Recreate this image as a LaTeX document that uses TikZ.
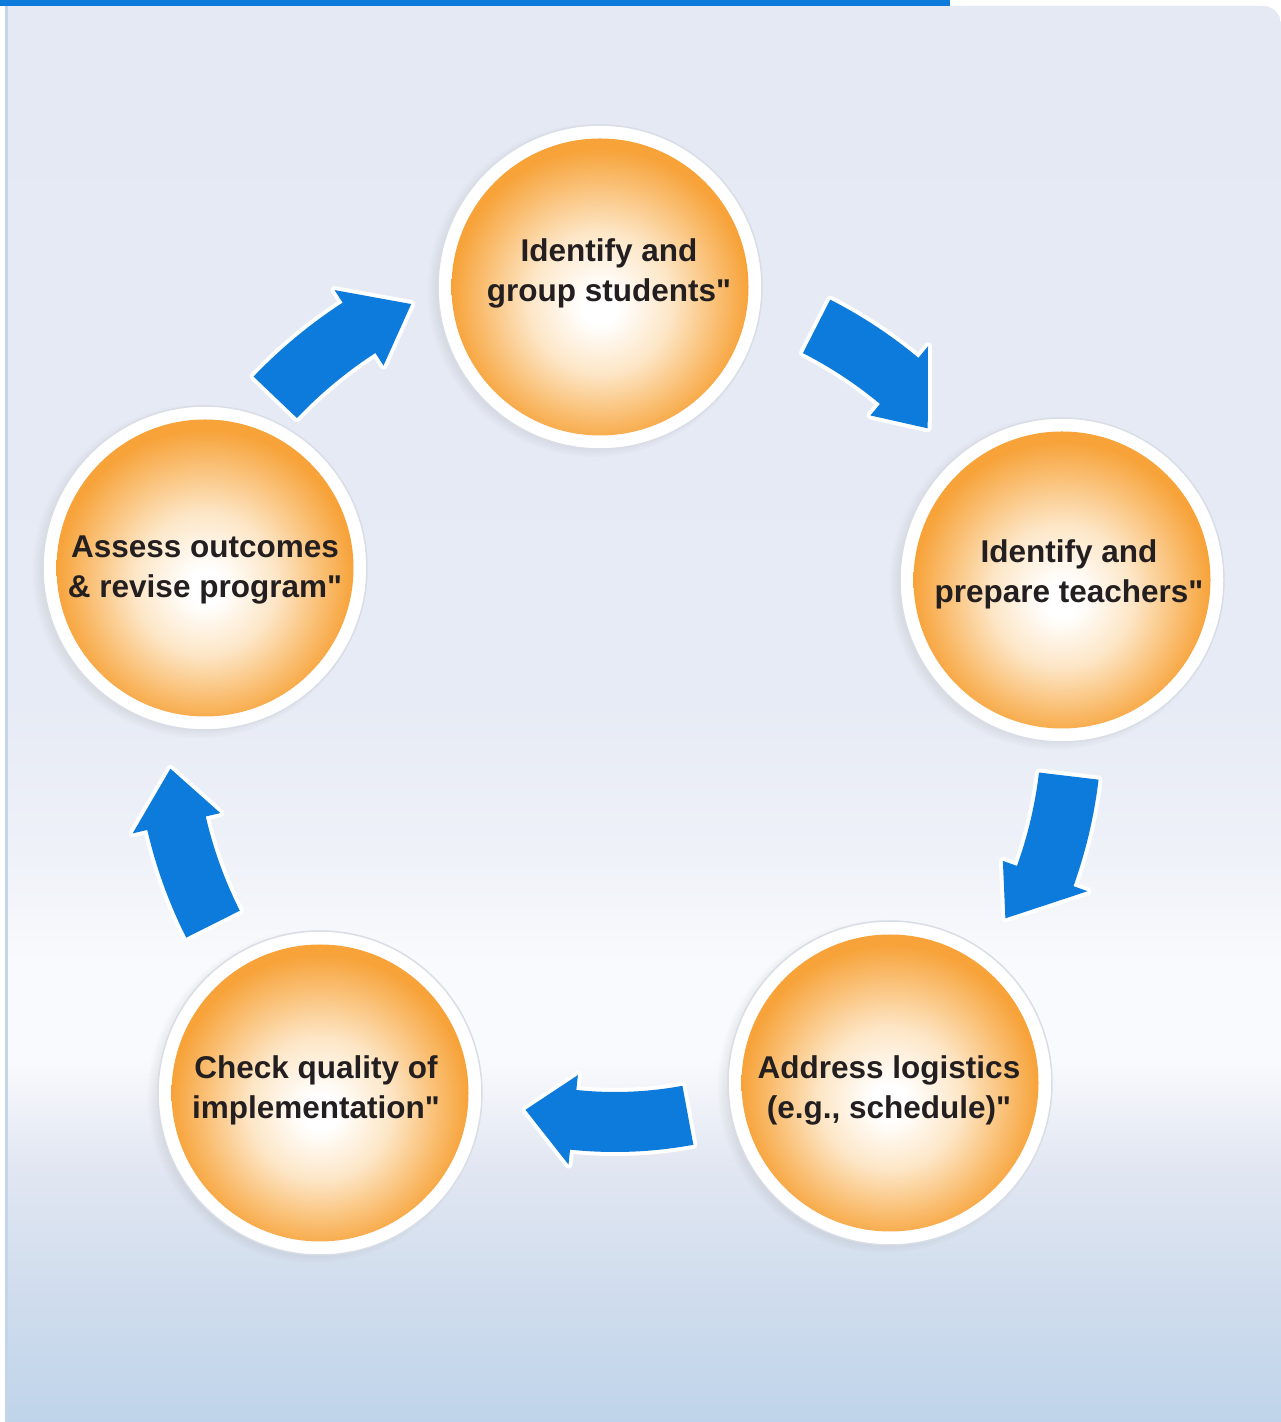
\documentclass[tikz,border=0pt]{standalone}
\usepackage{fontspec}
\newfontfamily\cyclefont{Liberation Sans}
\usetikzlibrary{positioning,calc,shadows}

\definecolor{cycleblue}{HTML}{0C7BDC}
\definecolor{ballorange}{HTML}{F7A33A}
\definecolor{ballmid}{HTML}{FAC27A}
\definecolor{ballpeach}{HTML}{FDE6C6}
\definecolor{ringgrey}{HTML}{D9DDE6}
\definecolor{textdark}{HTML}{231F20}
\definecolor{panelrim}{HTML}{C4D5EB}
\definecolor{paneltop}{HTML}{E4E9F4}
\definecolor{panelmid}{HTML}{E7EBF5}
\definecolor{panellight}{HTML}{EEF1F8}
\definecolor{panelwhite}{HTML}{F9FAFD}
\definecolor{panellow}{HTML}{E2E7F2}
\definecolor{panelblue}{HTML}{CFDCED}
\definecolor{panelbottom}{HTML}{BFD4EA}

\pgfdeclareverticalshading{panelshade}{100bp}{color(0bp)=(panelbottom); color(25bp)=(panelbottom);
  color(29.3bp)=(panelblue); color(34.2bp)=(panellow); color(37.8bp)=(panelwhite); color(41.3bp)=(panelwhite);
  color(45.2bp)=(panellight); color(50.5bp)=(panelmid); color(75bp)=(paneltop); color(100bp)=(paneltop)}
\pgfdeclareradialshading{ballshade}{\pgfpoint{0bp}{-3.5bp}}{color(0bp)=(white); color(3bp)=(white);
  color(12bp)=(ballpeach); color(19bp)=(ballmid); color(25bp)=(ballorange); color(50bp)=(ballorange)}

\newcommand\cyclearrow[4]{%
  \def\cyclepath{($(hub)+(#1:{#3+30})$) arc[start angle=#1, end angle=#2+7, radius=#3+30]
    -- ($(hub)+({#2+7}:{#3+45})$) -- ($(hub)+(#2:{#3+#4})$) -- ($(hub)+({#2+7}:{#3-45})$)
    -- ($(hub)+({#2+7}:{#3-30})$) arc[start angle=#2+7, end angle=#1, radius=#3-30] -- cycle}%
  \fill[arrowshadow] \cyclepath;
  \filldraw[arrowrim] \cyclepath;
  \fill[arrowbody] \cyclepath;}

\begin{document}
\begin{tikzpicture}[x=1pt, y=1pt, on grid,
    ring/.style={circle, minimum size=324, inner sep=0, fill=white, draw=ringgrey, line width=1.5,
      circular drop shadow={shadow xshift=-6pt, shadow yshift=-3pt, shadow scale=1.03, opacity=.35}},
    ball/.style={circle, minimum size=297, inner sep=0, shade, shading=ballshade},
    caption/.style={inner sep=0, align=center, text=textdark, font=\cyclefont\bfseries\fontsize{31.5}{40}\selectfont},
    arrowshadow/.style={fill=black, opacity=.12, shift={(-6,-7)}},
    arrowrim/.style={fill=white, draw=white, line width=8, line join=round, shift={(-3,-3)}},
    arrowbody/.style={fill=cycleblue}]
    \useasboundingbox (0,0) rectangle (1281,1422);
    \fill[white] (0,0) rectangle (1281,1422);
    \shade[shading=panelshade] (6,0) -- (6,1416) -- (1263,1416) arc[start angle=90, end angle=0, radius=18] -- (1281,0) -- cycle;
    \fill[panelrim] (5,0) rectangle (8,1416);
    \fill[cycleblue] (0,1416) rectangle (950,1422);

    \coordinate (hub) at (615,700);
    \cyclearrow{63}{43.2}{444}{-15}
    \cyclearrow{-6.8}{-26.7}{457}{-20}
    \cyclearrow{-79.5}{-103}{400}{-2}
    \cyclearrow{-153.3}{-174}{450}{-3}
    \cyclearrow{136.3}{116}{470}{-5}

    \node[ring] (studring) at (600,1135) {};
    \node[ring, below right=293pt and 462pt of studring] (teachring) {};
    \node[ring, below left=503pt and 172pt of teachring] (logiring) {};
    \node[ring, below left=10pt and 570pt of logiring] (qualring) {};
    \node[ring, above left=525pt and 115pt of qualring] (assessring) {};

    \node[ball] (stud) at (studring) {};
    \node[ball] (teach) at (teachring) {};
    \node[ball] (logi) at (logiring) {};
    \node[ball] (qual) at (qualring) {};
    \node[ball] (assess) at (assessring) {};

    \node[caption, above right=13.5pt and 9pt of stud] (studtext) {Identify and\\group students"};
    \node[caption, above right=5.5pt and 7pt of teach] (teachtext) {Identify and\\prepare teachers"};
    \node[caption, below left=7.5pt and 1pt of logi] (logitext) {Address logistics\\(e.g., schedule)"};
    \node[caption, above left=2.5pt and 4pt of qual] (qualtext) {Check quality of\\implementation"};
    \node[caption, below=2.5pt of assess] (assesstext) {Assess outcomes\\\& revise program"};
\end{tikzpicture}
\end{document}
